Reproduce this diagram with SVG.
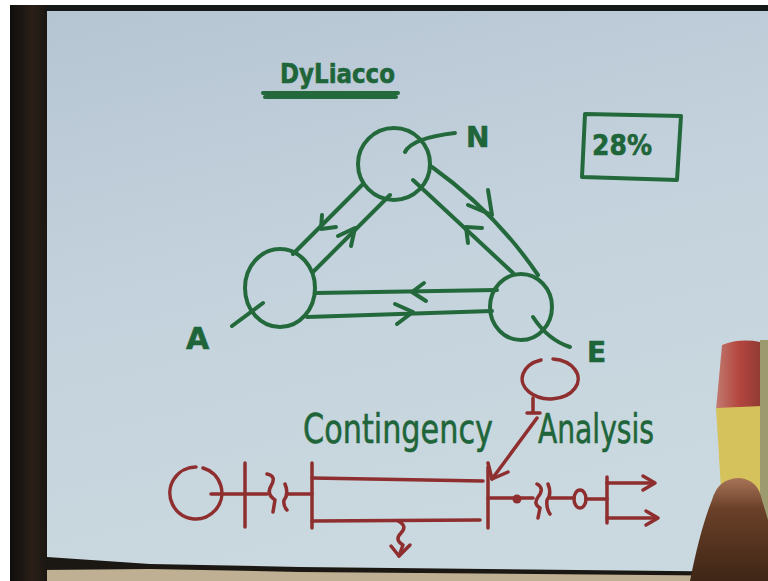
<svg xmlns="http://www.w3.org/2000/svg" width="768" height="581" viewBox="0 0 768 581">
<defs>
<linearGradient id="paper" x1="0" y1="0" x2="0.3" y2="1">
<stop offset="0" stop-color="#b5c5d2"/>
<stop offset="0.5" stop-color="#c4d2dd"/>
<stop offset="1" stop-color="#cad8df"/>
</linearGradient>
<linearGradient id="frame" x1="0" y1="0" x2="1" y2="0">
<stop offset="0" stop-color="#0e0d0b"/>
<stop offset="0.6" stop-color="#2a1f17"/>
<stop offset="1" stop-color="#1a1612"/>
</linearGradient>
<linearGradient id="cap" x1="0" y1="0" x2="1" y2="0">
<stop offset="0" stop-color="#c07a70"/>
<stop offset="0.5" stop-color="#b4463f"/>
<stop offset="1" stop-color="#8e3a33"/>
</linearGradient>
<linearGradient id="hand" x1="0" y1="0" x2="0" y2="1">
<stop offset="0" stop-color="#a87458"/>
<stop offset="0.3" stop-color="#6a4028"/>
<stop offset="1" stop-color="#3e2616"/>
</linearGradient>
<style>
.g{fill:none;stroke:#23693b;stroke-width:4;stroke-linecap:round;stroke-linejoin:round}
.gt{fill:#1f653a;stroke:#1f653a;stroke-width:0.6;font-family:"DejaVu Sans","Liberation Sans",sans-serif}
.r{fill:none;stroke:#8e2e2e;stroke-width:3.5;stroke-linecap:round;stroke-linejoin:round}
.rf{fill:#8e2e2e}
</style>
</defs>
<rect x="0" y="0" width="768" height="581" fill="#ffffff"/>
<rect x="10" y="5" width="758" height="576" fill="#1b1713"/>
<polygon points="47,11 768,11 768,572 300,567 150,564 47,557" fill="url(#paper)"/>
<polygon points="40,570 150,569 300,572 768,576 768,581 40,581" fill="#bfb093"/>
<rect x="10" y="5" width="37" height="576" fill="url(#frame)"/>
<rect x="47" y="5" width="721" height="6" fill="#16191a"/>

<g id="title">
<text class="gt" x="280" y="83" font-size="26" font-weight="bold" stroke-width="0" textLength="115" lengthAdjust="spacingAndGlyphs">DyLiacco</text>
<path class="g" d="M263,93 L398,93" stroke-width="3.5"/>
<path class="g" d="M265,97 L396,97" stroke-width="2"/>
</g>

<g id="box28">
<path class="g" d="M585,114 L681,116 L677,180 L582,177 Z"/>
<text class="gt" x="592" y="155" font-size="28" font-weight="bold" stroke-width="0" textLength="60" lengthAdjust="spacingAndGlyphs">28%</text>
</g>

<g id="node-N">
<ellipse class="g" cx="394" cy="164" rx="36" ry="36"/>
<path class="g" d="M405,152 Q412,138 455,133" stroke-width="3"/>
<text class="gt" x="466" y="147" font-size="28" font-weight="bold" stroke-width="0">N</text>
</g>

<g id="node-A">
<ellipse class="g" cx="280" cy="288" rx="35" ry="39"/>
<path class="g" d="M232,326 L263,303" stroke-width="3"/>
<text class="gt" x="186" y="349" font-size="30" font-weight="bold" stroke-width="0">A</text>
</g>

<g id="node-E">
<ellipse class="g" cx="521" cy="307" rx="31" ry="33"/>
<path class="g" d="M533,317 Q548,340 570,347" stroke-width="3"/>
<text class="gt" x="587" y="362" font-size="28" font-weight="bold" stroke-width="0">E</text>
</g>

<g id="connectors">
<path class="g" d="M363,184 L293,254"/>
<path class="g" d="M322,215 L321,229 L336,227"/>
<path class="g" d="M390,195 L313,272"/>
<path class="g" d="M338,236 L355,228 L351,246"/>
<path class="g" d="M432,167 Q495,212 538,275" stroke-width="3.5"/>
<path class="g" d="M468,205 L492,215 L488,190" stroke-width="3.5"/>
<path class="g" d="M413,180 L513,273" stroke-width="3"/>
<path class="g" d="M482,228 L466,227 L468,243" stroke-width="3.5"/>
<path class="g" d="M315,293 L497,290"/>
<path class="g" d="M424,283 L412,292 L426,301"/>
<path class="g" d="M307,317 L492,311"/>
<path class="g" d="M395,304 L413,312 L397,324"/>
</g>

<g id="label-contingency">
<text class="gt" x="303" y="443" font-size="40" textLength="190" lengthAdjust="spacingAndGlyphs">Contingency</text>
</g>
<g id="label-analysis">
<text class="gt" x="538" y="443" font-size="40" textLength="116" lengthAdjust="spacingAndGlyphs">Analysis</text>
</g>

<g id="oneline">
<path class="r" d="M196,467 A26,26 0 1 0 203,468"/>
<path class="r" d="M211,494 L267,494"/>
<path class="r" d="M245,463 L245,527"/>
<path class="r" d="M267,474 Q277,476 271,486 Q266,494 275,500 L273,512"/>
<path class="r" d="M285,484 Q289,494 284,500 Q283,506 287,510"/>
<path class="r" d="M287,494 L312,494"/>
<path class="r" d="M312,463 L312,528"/>
<path class="r" d="M312,478 L483,481"/>
<path class="r" d="M312,521 L480,520"/>
<path class="r" d="M488,467 L488,528"/>
<path class="r" d="M398,521 Q408,526 401,533 Q394,540 403,545 L399,556"/>
<path class="r" d="M391,546 L399,556 L410,545"/>
<path class="r" d="M541,360 A28,20 0 1 0 553,359"/>
<path class="r" d="M533,398 L533,413 M527,413 L540,413"/>
<path class="r" d="M537,418 L492,479"/>
<path class="r" d="M488,463 L492,479 L508,472"/>
<path class="r" d="M488,498 L533,498"/>
<circle class="rf" cx="517" cy="499" r="4.5"/>
<path class="r" d="M537,484 Q545,488 538,497 Q533,504 540,508 L538,518"/>
<path class="r" d="M548,484 Q552,494 547,500 Q546,508 550,514"/>
<path class="r" d="M550,498 L574,498"/>
<ellipse class="r" cx="580" cy="499" rx="6" ry="9"/>
<path class="r" d="M586,499 L607,499"/>
<path class="r" d="M607,477 L607,523"/>
<path class="r" d="M607,483 L653,483"/>
<path class="r" d="M643,476 L655,483 L643,490" stroke-width="4.5"/>
<path class="r" d="M607,518 L656,518"/>
<path class="r" d="M646,511 L658,518 L646,525" stroke-width="4.5"/>
</g>

<g id="pen-hand">
<path d="M722,345 Q740,338 760,342 L762,408 L716,410 Z" fill="url(#cap)"/>
<path d="M716,408 L762,406 L764,505 L722,505 Z" fill="#d6c25c"/>
<rect x="760" y="340" width="8" height="241" fill="#9d9a70"/>
<path d="M690,581 Q700,530 712,500 Q718,478 740,478 Q758,480 762,500 L768,520 L768,581 Z" fill="url(#hand)"/>
</g>
</svg>
